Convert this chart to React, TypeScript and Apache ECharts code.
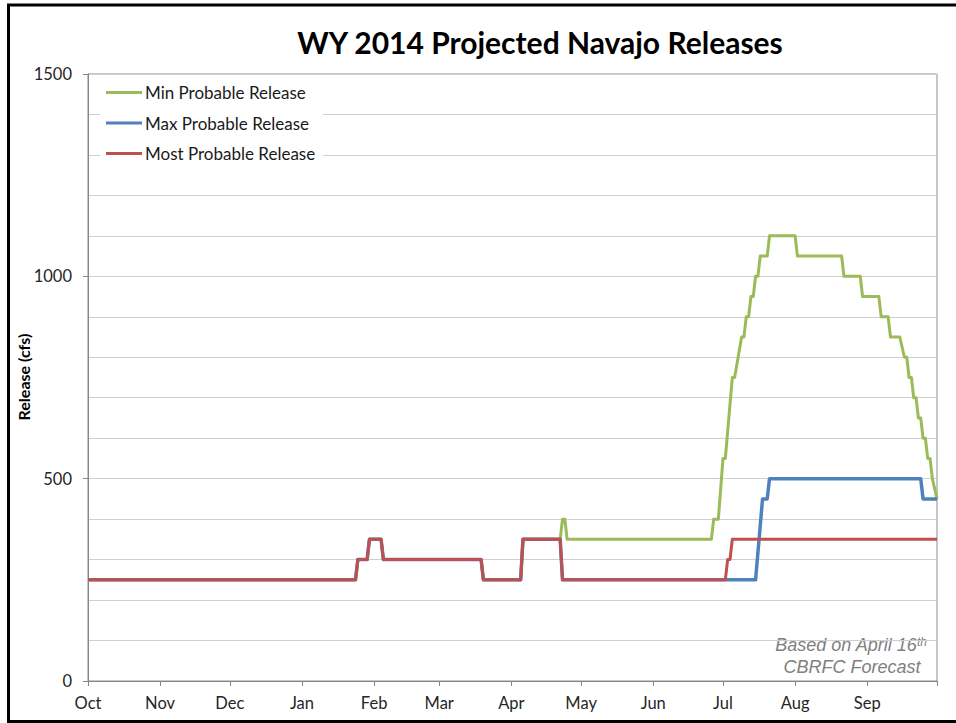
import React, { useEffect, useRef } from "react";
import * as echarts from "echarts";

// Days counted from Oct 1, 2013 (start of water year 2014)
const MONTH_LABELS = ["Oct", "Nov", "Dec", "Jan", "Feb", "Mar", "Apr", "May", "Jun", "Jul", "Aug", "Sep"];
const MONTH_STARTS = [0, 31, 61, 92, 123, 151, 182, 212, 243, 273, 304, 335, 365];
const Y_TICKS = [0, 500, 1000, 1500];

const SERIES_NAMES = ["Min Probable Release", "Max Probable Release", "Most Probable Release"];

// [day of water year, release cfs]
const MIN_RELEASE: [number, number][] = [
  [0, 250], [115, 250], [116, 300], [120, 300], [121, 350], [126, 350], [127, 300],
  [169, 300], [170, 250], [186, 250], [187, 350], [203, 350], [204, 400], [205, 400],
  [206, 350], [268, 350], [269, 400], [271, 400], [273, 550], [274, 550], [277, 750],
  [278, 750], [281, 850], [282, 850], [283, 900], [284, 900], [285, 950], [286, 950],
  [287, 1000], [288, 1000], [289, 1050], [292, 1050], [293, 1100], [304, 1100],
  [305, 1050], [324, 1050], [325, 1000], [332, 1000], [333, 950], [340, 950],
  [341, 900], [344, 900], [345, 850], [349, 850], [351, 800], [352, 800], [353, 750],
  [354, 750], [355, 700], [356, 700], [357, 650], [358, 650], [359, 600], [360, 600],
  [361, 550], [362, 550], [363, 500], [365, 450],
];

const MAX_RELEASE: [number, number][] = [
  [0, 250], [115, 250], [116, 300], [120, 300], [121, 350], [126, 350], [127, 300],
  [169, 300], [170, 250], [186, 250], [187, 350], [203, 350], [204, 250], [287, 250],
  [290, 450], [292, 450], [293, 500], [358, 500], [359, 450], [365, 450],
];

const MOST_RELEASE: [number, number][] = [
  [0, 250], [115, 250], [116, 300], [120, 300], [121, 350], [126, 350], [127, 300],
  [169, 300], [170, 250], [186, 250], [187, 350], [203, 350], [204, 250], [274, 250],
  [275, 300], [276, 300], [277, 350], [365, 350],
];

const SERIES_DATA = [MIN_RELEASE, MAX_RELEASE, MOST_RELEASE];
const SERIES_COLORS = ["#9bbb59", "#4f81bd", "#c0504d"];
const SERIES_WIDTHS = [3, 3.5, 3];

const CAL = "Lato, 'Open Sans', sans-serif";
const ARIAL = "'Liberation Sans', Arial, sans-serif";

export default function App() {
  const ref = useRef<HTMLDivElement>(null);

  useEffect(() => {
    if (!ref.current) return;
    const chart = echarts.init(ref.current, null, { renderer: "svg" });
    const option: any = {
      animation: false,
      backgroundColor: "#ffffff",
      grid: {
        left: 88,
        right: 19,
        top: 74,
        bottom: 42,
        show: true,
        borderColor: "#8c8c8c",
        borderWidth: 1,
        backgroundColor: "transparent",
      },
      legend: {
        orient: "vertical",
        left: 100,
        top: 78,
        padding: [6, 8, 6, 6],
        backgroundColor: "#ffffff",
        icon: "rect",
        itemWidth: 36,
        itemHeight: 3,
        itemGap: 13.5,
        data: SERIES_NAMES,
        textStyle: { fontFamily: CAL, fontSize: 17, lineHeight: 16, color: "#1a1a1a", padding: [0, 0, 0, -2] },
      },
      xAxis: {
        type: "value",
        min: 0,
        max: 365,
        axisLine: { show: true, lineStyle: { color: "#868686", width: 1 } },
        axisTick: {
          show: true,
          customValues: MONTH_STARTS,
          length: 5,
          lineStyle: { color: "#868686" },
        },
        axisLabel: {
          customValues: MONTH_STARTS.slice(0, 12),
          formatter: (v: number) => MONTH_LABELS[MONTH_STARTS.indexOf(v)] ?? "",
          fontFamily: CAL,
          fontSize: 16.5,
          color: "#262626",
          margin: 13,
        },
        splitLine: { show: false },
      },
      yAxis: [
        {
          type: "value",
          min: 0,
          max: 1500,
          interval: 500,
          axisLine: { show: true, lineStyle: { color: "#868686", width: 1 } },
          axisTick: { show: true, length: 5, lineStyle: { color: "#868686" } },
          axisLabel: {
            customValues: Y_TICKS,
            formatter: (v: number) => String(v),
            fontFamily: CAL,
            fontSize: 16.5,
            color: "#262626",
            margin: 16,
          },
          splitLine: { show: false },
        },
        {
          type: "value",
          min: 0,
          max: 1500,
          interval: 100,
          position: "left",
          axisLine: { show: false },
          axisTick: { show: false },
          axisLabel: { show: false },
          splitLine: { show: true, lineStyle: { color: "#cfcfcf", width: 1 } },
        },
      ],
      series: SERIES_NAMES.map((name, i) => ({
        name,
        type: "line",
        yAxisIndex: 0,
        data: SERIES_DATA[i],
        symbol: "none",
        showSymbol: false,
        color: SERIES_COLORS[i],
        lineStyle: { color: SERIES_COLORS[i], width: SERIES_WIDTHS[i], join: "round" },
        z: 3 + i,
      })),
      graphic: [
        {
          type: "rect",
          silent: true,
          shape: { x: 8.5, y: 5, width: 1000, height: 716.5 },
          style: { fill: "none", stroke: "#000000", lineWidth: 3 },
          z: 100,
        },
        {
          type: "text",
          x: 540,
          y: 42,
          style: {
            text: "WY 2014 Projected Navajo Releases",
            fontFamily: CAL,
            fontWeight: "bold",
            fontSize: 30,
            fill: "#000000",
            align: "center",
            verticalAlign: "middle",
          },
        },
        {
          type: "text",
          x: 23,
          y: 377,
          rotation: Math.PI / 2,
          style: {
            text: "Release (cfs)",
            fontFamily: CAL,
            fontWeight: "bold",
            fontSize: 16,
            fill: "#000000",
            align: "center",
            verticalAlign: "middle",
          },
        },
        {
          type: "text",
          x: 851,
          y: 645,
          style: {
            text: "Based on April 16{sup|th}",
            fontFamily: ARIAL,
            fontStyle: "italic",
            fontSize: 18,
            fill: "#808080",
            align: "center",
            verticalAlign: "middle",
            rich: {
              sup: {
                fontFamily: ARIAL,
                fontStyle: "italic",
                fontSize: 12,
                fill: "#808080",
                verticalAlign: "top",
              },
            },
          },
        },
        {
          type: "text",
          x: 852,
          y: 667,
          style: {
            text: "CBRFC Forecast",
            fontFamily: ARIAL,
            fontStyle: "italic",
            fontSize: 18,
            fill: "#808080",
            align: "center",
            verticalAlign: "middle",
          },
        },
      ],
    };
    chart.setOption(option);
    return () => chart.dispose();
  }, []);

  return (
    <div
      ref={ref}
      style={{ position: "fixed", left: 0, top: 0, width: 956, height: 723, background: "#fff" }}
    />
  );
}
